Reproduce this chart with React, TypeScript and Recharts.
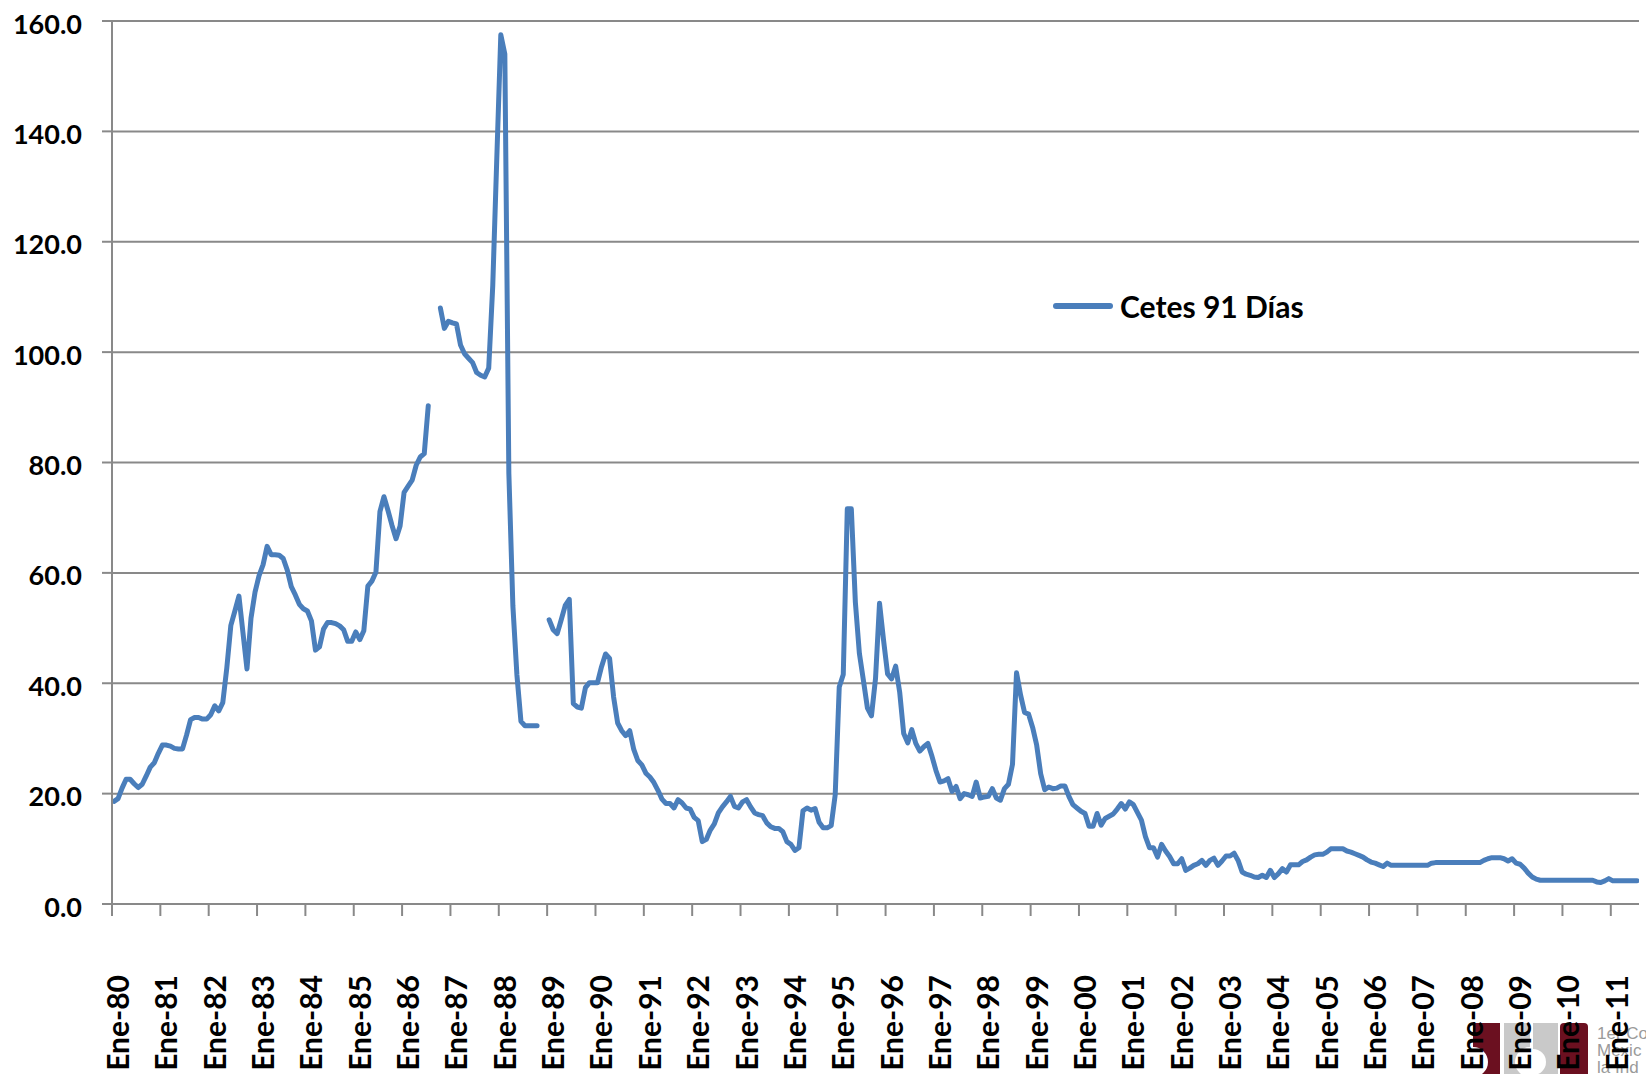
import { LineChart, Line, XAxis, YAxis, CartesianGrid, Legend } from "recharts";

// Cetes a 91 días, tasa mensual (%), Ene-80 a Jul-11
const startYear = 1980;
const seriesName = "Cetes 91 Días";

const y1980 = [18.6, 19.1, 21.0, 22.6, 22.6, 21.8, 21.1, 21.7, 23.2, 24.8, 25.6, 27.3];
const y1981 = [28.8, 28.8, 28.6, 28.2, 28.1, 28.1, 30.6, 33.4, 33.8, 33.8, 33.5, 33.5];
const y1982 = [34.3, 35.9, 35.0, 36.5, 42.8, 50.5, 53.1, 55.8, 49.2, 42.6, 51.8, 56.5];
const y1983 = [59.5, 61.5, 64.8, 63.3, 63.3, 63.2, 62.6, 60.5, 57.5, 56.0, 54.3, 53.5];
const y1984 = [53.1, 51.3, 46.0, 46.6, 49.8, 51.0, 51.0, 50.8, 50.4, 49.7, 47.6, 47.6];
const y1985 = [49.3, 47.9, 49.5, 57.6, 58.5, 60.1, 71.1, 73.8, 71.3, 68.6, 66.2, 68.5];
const y1986 = [74.6, 75.7, 76.8, 79.5, 81.0, 81.6, 90.3, null, null, 108.0, 104.3, 105.6];
const y1987 = [105.3, 105.1, 101.3, 99.7, 98.9, 98.1, 96.3, 95.8, 95.5, 97.1, 112.0, 135.0];
const y1988 = [157.5, 154.0, 78.0, 54.0, 41.5, 33.1, 32.3, 32.3, 32.3, 32.3, null, null];
const y1989 = [51.5, 49.7, 49.0, 51.5, 54.1, 55.2, 36.3, 35.7, 35.5, 39.2, 40.1, 40.1];
const y1990 = [40.1, 43.0, 45.3, 44.5, 37.5, 32.8, 31.4, 30.5, 31.4, 28.0, 26.0, 25.2];
const y1991 = [23.7, 23.0, 22.0, 20.6, 19.0, 18.2, 18.2, 17.4, 18.9, 18.3, 17.4, 17.2];
const y1992 = [15.7, 15.1, 11.3, 11.7, 13.4, 14.5, 16.5, 17.6, 18.5, 19.5, 17.7, 17.4];
const y1993 = [18.5, 18.9, 17.6, 16.5, 16.2, 16.0, 14.7, 14.0, 13.7, 13.7, 13.1, 11.3];
const y1994 = [10.8, 9.7, 10.2, 16.9, 17.4, 17.0, 17.3, 14.8, 13.8, 13.8, 14.2, 19.8];
const y1995 = [39.3, 41.6, 71.6, 71.6, 54.7, 45.4, 40.5, 35.5, 34.1, 40.8, 54.5, 47.8];
const y1996 = [41.7, 40.8, 43.1, 38.4, 30.9, 29.2, 31.6, 29.1, 27.7, 28.5, 29.1, 26.8];
const y1997 = [24.2, 22.1, 22.3, 22.7, 20.4, 21.3, 19.1, 20.0, 19.8, 19.5, 22.1, 19.2];
const y1998 = [19.4, 19.5, 20.9, 19.2, 18.8, 20.9, 21.7, 25.3, 41.9, 37.9, 34.7, 34.4];
const y1999 = [32.0, 28.8, 23.6, 20.7, 21.2, 20.9, 21.0, 21.4, 21.4, 19.5, 18.0, 17.4];
const y2000 = [16.8, 16.4, 14.1, 14.1, 16.4, 14.3, 15.5, 15.9, 16.3, 17.2, 18.2, 17.2];
const y2001 = [18.5, 18.0, 16.6, 15.2, 12.2, 10.2, 10.2, 8.5, 10.8, 9.6, 8.6, 7.3];
const y2002 = [7.3, 8.2, 6.1, 6.5, 7.0, 7.3, 7.9, 7.0, 7.9, 8.3, 7.0, 7.8];
const y2003 = [8.7, 8.7, 9.2, 7.9, 5.8, 5.4, 5.2, 4.9, 4.8, 5.2, 4.8, 6.1];
const y2004 = [4.8, 5.5, 6.4, 5.8, 7.1, 7.1, 7.1, 7.7, 8.0, 8.5, 8.9, 9.0];
const y2005 = [9.0, 9.4, 10.0, 10.0, 10.0, 10.0, 9.6, 9.4, 9.1, 8.8, 8.5, 8.0];
const y2006 = [7.6, 7.4, 7.1, 6.8, 7.4, 7.0, 7.0, 7.0, 7.0, 7.0, 7.0, 7.0];
const y2007 = [7.0, 7.0, 7.0, 7.4, 7.5, 7.5, 7.5, 7.5, 7.5, 7.5, 7.5, 7.5];
const y2008 = [7.5, 7.5, 7.5, 7.5, 7.9, 8.2, 8.4, 8.4, 8.4, 8.2, 7.8, 8.2];
const y2009 = [7.4, 7.2, 6.5, 5.6, 4.9, 4.5, 4.3, 4.3, 4.3, 4.3, 4.3, 4.3];
const y2010 = [4.3, 4.3, 4.3, 4.3, 4.3, 4.3, 4.3, 4.3, 4.0, 3.9, 4.2, 4.6];
const y2011 = [4.2, 4.2, 4.2, 4.2, 4.2, 4.2, 4.2];

const seriesByYear = [
  y1980, y1981, y1982, y1983, y1984, y1985, y1986, y1987, y1988, y1989, y1990,
  y1991, y1992, y1993, y1994, y1995, y1996, y1997, y1998, y1999, y2000, y2001,
  y2002, y2003, y2004, y2005, y2006, y2007, y2008, y2009, y2010, y2011,
];

const yTicks = [0, 20, 40, 60, 80, 100, 120, 140, 160];
const monthLabel = "Ene";
const totalSlots = 379;

// each month sits in the middle of its category slot
const data = seriesByYear.flat().map((v, i) => ({ pos: i + 0.5, cetes: v }));
const xTicks = seriesByYear.map((_, i) => i * 12);

const LINE_BLUE = "#4a7ebb";
const GRID_GRAY = "#898989";
const FONT = "Lato, 'Open Sans', sans-serif";

function YearTick(props: any) {
  const { x, y, payload } = props;
  const yr = (startYear + payload.value / 12) % 100;
  const label = `${monthLabel}-${String(yr).padStart(2, "0")}`;
  return (
    <text
      transform={`translate(${x + 5},${y + 36}) rotate(-90)`}
      textAnchor="end"
      dominantBaseline="central"
      fontFamily={FONT}
      fontWeight={700}
      fontSize={30}
      fill="#000"
    >
      {label}
    </text>
  );
}

function LegendBox() {
  return (
    <div style={{ display: "flex", alignItems: "center", fontFamily: FONT }}>
      <svg width={62} height={12}>
        <line x1={4} y1={6} x2={58} y2={6} stroke={LINE_BLUE} strokeWidth={6} strokeLinecap="round" />
      </svg>
      <span style={{ marginLeft: 6, fontSize: 30, fontWeight: 700, color: "#000" }}>{seriesName}</span>
    </div>
  );
}

function Logo() {
  return (
    <div style={{ position: "absolute", left: 1466, top: 1022, width: 180, height: 52, overflow: "hidden" }}>
      <svg width={180} height={60}>
        <rect x={7} y={1} width={27} height={60} fill="#6b1020" />
        <circle cx={7} cy={40} r={15} fill="#fff" />
        <rect x={38} y={1} width={26} height={60} fill="#c9c9c9" />
        <circle cx={64} cy={40} r={15} fill="#fff" />
        <rect x={67} y={1} width={25} height={60} fill="#c9c9c9" />
        <circle cx={67} cy={40} r={13} fill="#fff" />
        <rect x={94} y={1} width={28} height={60} rx={4} fill="#6b1020" />
        <text x={131} y={17} fontFamily="Arial, sans-serif" fontSize={17} fill="#9a9a9a">1er Con</text>
        <text x={131} y={34} fontFamily="Arial, sans-serif" fontSize={17} fill="#9a9a9a">Mexic</text>
        <text x={131} y={51} fontFamily="Arial, sans-serif" fontSize={17} fill="#9a9a9a">la Ind</text>
      </svg>
    </div>
  );
}

export default function App() {
  return (
    <div style={{ position: "absolute", left: 0, top: 0, width: 1646, height: 1074, background: "#fff", overflow: "hidden" }}>
      <Logo />
      <div style={{ position: "absolute", left: 0, top: 0 }}>
        <LineChart width={1646} height={1074} data={data} margin={{ top: 21, right: 7, bottom: 0, left: 0 }}>
          <CartesianGrid vertical={false} stroke={GRID_GRAY} strokeWidth={2} />
          <XAxis
            type="number"
            dataKey="pos"
            domain={[0, totalSlots]}
            ticks={xTicks}
            interval={0}
            height={134}
            tickSize={12}
            tickMargin={23}
            axisLine={{ stroke: GRID_GRAY, strokeWidth: 2 }}
            tickLine={{ stroke: GRID_GRAY, strokeWidth: 2 }}
            tick={<YearTick />}
            allowDataOverflow
          />
          <YAxis
            domain={[0, 160]}
            ticks={yTicks}
            interval={0}
            width={112}
            tickSize={10}
            tickMargin={20}
            axisLine={{ stroke: GRID_GRAY, strokeWidth: 2 }}
            tickLine={{ stroke: GRID_GRAY, strokeWidth: 2 }}
            tickFormatter={(v: number) => v.toFixed(1)}
            tick={{ fontFamily: FONT, fontWeight: 700, fontSize: 27, fill: "#000", dy: 3 }}
          />
          <Legend
            content={() => <LegendBox />}
            wrapperStyle={{ position: "absolute", left: 1052, top: 288, width: 320 }}
          />
          <Line
            type="linear"
            dataKey="cetes"
            name={seriesName}
            stroke={LINE_BLUE}
            strokeWidth={5}
            strokeLinejoin="round"
            strokeLinecap="round"
            dot={false}
            activeDot={false}
            connectNulls={false}
            isAnimationActive={false}
          />
        </LineChart>
      </div>
    </div>
  );
}
